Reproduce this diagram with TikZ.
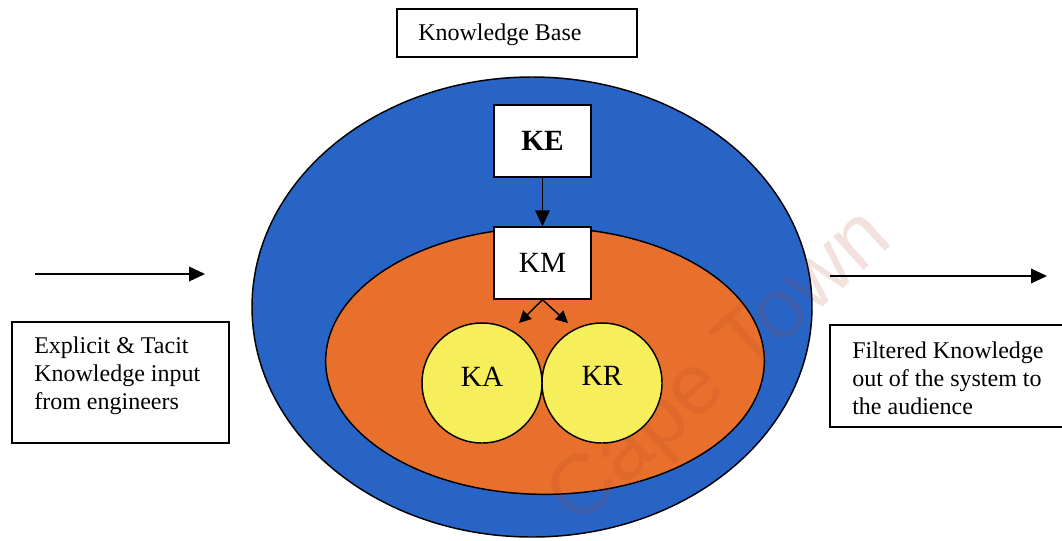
\documentclass[tikz,border=0pt]{standalone}
\usepackage{fontspec}
\setmainfont{Liberation Serif}
\newfontfamily\wmfont{Liberation Sans}
\usetikzlibrary{arrows.meta,shapes.geometric}
\definecolor{kbBlue}{RGB}{40,100,198}
\definecolor{kmOrange}{RGB}{232,112,44}
\definecolor{kaYellow}{RGB}{247,238,92}
\definecolor{wmInk}{RGB}{175,60,40}
\begin{document}
\begin{tikzpicture}[x=0.75pt,y=-0.75pt,
  outline/.style={draw=black,line width=1.1pt},
  framebox/.style={outline,fill=white,rectangle,inner sep=0pt},
  boxtext/.style={anchor=west,align=left,inner sep=0pt,
    font=\fontsize{18}{21}\selectfont},
  stagebox/.style={outline,fill=white,rectangle,minimum width=72.75pt,minimum height=54pt,
    inner sep=0pt,font=\fontsize{22}{24}\selectfont},
  region/.style={outline,ellipse,inner sep=0pt},
  unit/.style={outline,circle,fill=kaYellow,minimum size=90pt,inner sep=0pt,
    font=\fontsize{22}{24}\selectfont},
  flow/.style={line width=1.1pt,-{Triangle[length=12pt,width=11pt]}},
  split/.style={line width=1.1pt,-{Triangle[length=9pt,width=9pt]}}]
\useasboundingbox (0,0) rectangle (1062,540);
\fill[white] (0,0) rectangle (1062,540);

% nested regions of the knowledge base
\node[region,fill=kbBlue,minimum width=420pt,minimum height=345pt] (base) at (532,307) {};
\node[region,fill=kmOrange,minimum width=329pt,minimum height=200pt] (core) at (545,361) {};

% watermark
\node[text=wmInk,opacity=0.15,rotate=42,font=\wmfont\fontsize{64}{64}\selectfont] (wm) at (722,370) {Cape Town};

% title box
\node[framebox,minimum width=180pt,minimum height=36pt] (kb) at (517,33) {};
\node[boxtext] (kbText) at (418,35) {Knowledge Base};

% stages
\node[stagebox,font=\fontsize{22}{24}\selectfont\bfseries] (KE) at (542.5,141) {KE};
\node[stagebox] (KM) at (542.5,263) {KM};
\draw[flow] (KE.south) -- (KM.north);

\node[unit] (KA) at (482,383) {\raisebox{10pt}{KA}};
\node[unit] (KR) at (602,383) {\raisebox{10pt}{KR}};

\coordinate (toKA) at (519,323);
\coordinate (toKR) at (568,323);
\draw[split] (KM.south) -- (toKA);
\draw[split] (KM.south) -- (toKR);

% input side
\coordinate (inA) at (35,274);
\coordinate (inB) at (205,274);
\draw[flow] (inA) -- (inB);
\node[framebox,minimum width=162.75pt,minimum height=90.75pt] (inBox) at (120.5,382.5) {};
\node[boxtext] (inText) at (34,376) {Explicit \& Tacit\\Knowledge input\\from engineers};

% output side
\coordinate (outA) at (830,276);
\coordinate (outB) at (1047,276);
\draw[flow] (outA) -- (outB);
\node[framebox,minimum width=180pt,minimum height=76.5pt] (outBox) at (950,376) {};
\node[boxtext] (outText) at (852,378) {Filtered Knowledge\\out of the system to\\the audience};
\end{tikzpicture}
\end{document}
